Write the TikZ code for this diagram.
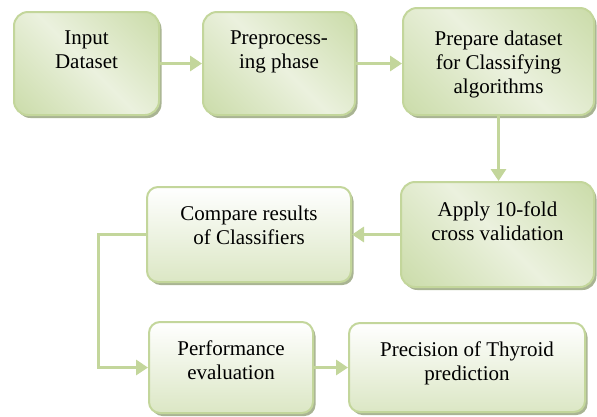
\documentclass[tikz,border=0pt]{standalone}
\usepackage{fontspec}
\setmainfont{Liberation Serif}
\newfontfamily\boxfont{Liberation Serif}
\usetikzlibrary{arrows.meta,shadows}
\definecolor{olvline}{HTML}{C3D69B}
\definecolor{olvdark}{HTML}{C8DAA5}
\definecolor{olvlight}{HTML}{EBF1DE}
\definecolor{olvshadow}{HTML}{A9B493}
\pgfdeclarehorizontalshading{olvreflect}{100bp}{color(0bp)=(olvdark); color(12bp)=(olvdark); color(50bp)=(olvlight); color(88bp)=(olvdark); color(100bp)=(olvdark)}
\begin{document}
\begin{tikzpicture}[x=1pt,y=-1pt,
  box/.style={draw=olvline, line width=2pt, rounded corners=14pt, inner sep=0pt,
    drop shadow={shadow xshift=2.5pt, shadow yshift=-3pt, fill=olvshadow, opacity=1}},
  boxa/.style={box, shade, shading=olvreflect, shading angle=45},
  boxb/.style={box, top color=white, bottom color=olvlight!55!olvdark, rounded corners=11pt},
  txt/.style={anchor=north, align=center, inner sep=0pt, font=\boxfont\fontsize{21}{24}\selectfont, yshift=-20pt},
  con/.style={draw=olvline, line width=3pt, -{Triangle[length=12pt,width=15pt]}}]
\useasboundingbox (0,0) rectangle (597,416);
\node[boxa, minimum width=145pt, minimum height=103pt] (bx1) at (86.5,63.5){};
\node[boxa, minimum width=152pt, minimum height=103pt] (bx2) at (279,63.5){};
\node[boxa, minimum width=191pt, minimum height=107pt] (bx3) at (498.5,61.5){};
\node[boxa, minimum width=193pt, minimum height=105pt] (bx4) at (497.5,234.5){};
\node[boxb, minimum width=204pt, minimum height=95pt] (bx5) at (249,234.5){};
\node[boxb, minimum width=164pt, minimum height=91pt] (bx6) at (231,367.5){};
\node[boxb, minimum width=236pt, minimum height=89pt] (bx7) at (467,367.5){};
\node[txt] (tx1) at (bx1.north) {Input\\Dataset};
\node[txt] (tx2) at (bx2.north) {Preprocess-\\ing phase};
\node[txt, yshift=-4pt] (tx3) at (bx3.north) {Prepare dataset\\for Classifying\\algorithms};
\node[txt, yshift=-1pt] (tx4) at (bx4.north) {Apply 10-fold\\cross validation};
\node[txt] (tx5) at (bx5.north) {Compare results\\of Classifiers};
\node[txt] (tx6) at (bx6.north) {Performance\\evaluation};
\node[txt] (tx7) at (bx7.north) {Precision of Thyroid\\prediction};
\draw[con](bx1) -- (bx2);
\draw[con](bx2.east) -- (bx2.east -| bx3.west);
\draw[con](bx3) -- (bx3 |- bx4.north);
\draw[con](bx4) -- (bx5);
\draw[con](bx5.west) -- ++(-48,0) |- (bx6.west);
\draw[con](bx6) -- (bx7);

\end{tikzpicture}
\end{document}
